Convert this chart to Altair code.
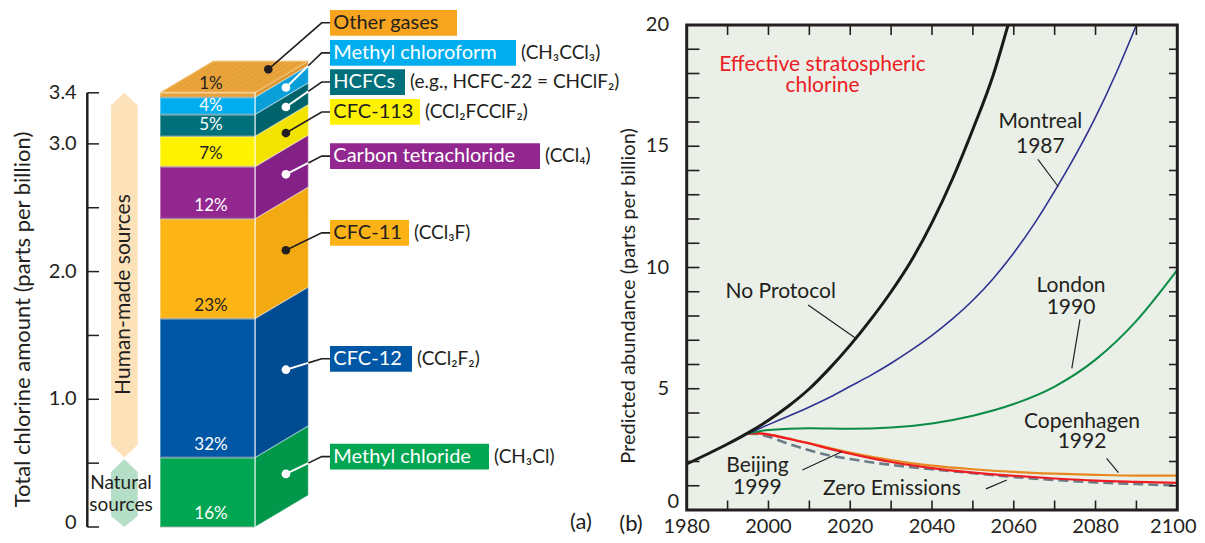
import altair as alt
import numpy as np
import pandas as pd

FONT = "Lato"
DARK = "#231F20"

# ---------------- Panel (a) data ----------------
gases = ["Methyl chloride", "CFC-12", "CFC-11", "Carbon tetrachloride",
         "CFC-113", "HCFCs", "Methyl chloroform", "Other gases"]
formulas = ["(CH₃Cl)", "(CCl₂F₂)", "(CCl₃F)", "(CCl₄)",
            "(CCl₂FCClF₂)", "(e.g., HCFC-22 = CHClF₂)", "(CH₃CCl₃)", ""]
percent = [16, 32, 23, 12, 7, 5, 4, 1]
total_ppb = 3.4
front_colors = ["#00A651", "#0057A5", "#FDB515", "#92278F", "#FFF200", "#00717A", "#00AEEF", "#E9A23A"]
side_colors = ["#00974A", "#004C93", "#F3A912", "#832186", "#F2E300", "#00636B", "#0B9FD9", "#DC9632"]
box_colors = ["#00A651", "#0057A5", "#FBB216", "#92278F", "#FFF200", "#00717A", "#00AEEF", "#F7A51E"]
dark_text = [False, False, True, False, True, False, False, True]
label_ppb = [0.551, 1.317, 2.303, 2.904, 3.250, 3.484, 3.713, 3.948]
box_width = [159, 82, 79, 210, 90, 75, 186, 127]
ppb_ticks = [0, 0.5, 1.0, 1.5, 2.0, 2.5, 3.0, 3.4]
ppb_tick_labels = ["0", "", "1.0", "", "2.0", "", "3.0", "3.4"]

# ---------------- Panel (b) data ----------------
np_years = [1980, 1985, 1990, 1995, 2000, 2005, 2010, 2015, 2020, 2025, 2030, 2035, 2040, 2045, 2050, 2055, 2058.6]
np_vals = [1.9, 2.3, 2.72, 3.18, 3.7, 4.3, 5.0, 5.85, 6.8, 7.85, 9.0, 10.3, 11.85, 13.65, 15.7, 17.95, 20.0]
mon_years = [1995, 2000, 2005, 2010, 2015, 2020, 2025, 2030, 2035, 2040, 2045, 2050, 2055, 2060, 2065, 2070, 2075, 2080, 2085, 2090]
mon_vals = [3.15, 3.52, 3.88, 4.25, 4.65, 5.1, 5.55, 6.05, 6.6, 7.2, 7.88, 8.65, 9.55, 10.6, 11.8, 13.15, 14.6, 16.2, 18.0, 20.0]
lon_years = [1995, 2000, 2010, 2020, 2030, 2040, 2050, 2060, 2070, 2080, 2090, 2100]
lon_vals = [3.15, 3.3, 3.37, 3.35, 3.4, 3.57, 3.89, 4.37, 5.09, 6.2, 7.8, 9.9]
low_years = [1995, 1997, 2000, 2005, 2010, 2015, 2020, 2025, 2030, 2040, 2050, 2060, 2070, 2080, 2090, 2100]
cop_vals = [3.15, 3.17, 3.12, 2.95, 2.76, 2.56, 2.37, 2.2, 2.06, 1.83, 1.68, 1.57, 1.5, 1.45, 1.42, 1.42]
bei_vals = [3.15, 3.17, 3.11, 2.93, 2.74, 2.52, 2.32, 2.14, 1.98, 1.73, 1.54, 1.41, 1.3, 1.21, 1.16, 1.12]
zero_vals = [3.15, 3.14, 3.02, 2.72, 2.46, 2.25, 2.1, 1.97, 1.86, 1.68, 1.52, 1.36, 1.24, 1.14, 1.07, 1.01]
year_ticks = list(range(1980, 2101, 20))
abund_ticks = [0, 5, 10, 15, 20]

# ---------------- layout (pixel styling) ----------------
W, H = 1189, 527
FX0, FX1 = 152, 247      # front face of the bar
DX = 53.3                # depth of the bar, px
DY = 0.248               # depth of the bar, in ppb units
KNEE, BOXL = 313.7, 322

XA = alt.Scale(domain=[0, W], range=[0, W], nice=False, zero=False)
YA = alt.Scale(domain=[0, 3.4], range=[519, 84.8], nice=False, zero=False)
XB = alt.Scale(domain=[1980, 2100], range=[678.7, 1169.3], nice=False, zero=False)
YB = alt.Scale(domain=[0, 20], range=[502, 17], nice=False, zero=False)


def xa(f):
    return alt.X(f, scale=XA, axis=None)


def ya(f):
    return alt.Y(f, scale=YA, axis=None, stack=None)


def xb(f):
    return alt.X(f, scale=XB, axis=None)


def yb(f):
    return alt.Y(f, scale=YB, axis=None, stack=None)


vals = np.array(percent) / 100 * total_ppb
tops = np.cumsum(vals)
bottoms = tops - vals
mids = (tops + bottoms) / 2
tcol = [DARK if d else "white" for d in dark_text]

seg = pd.DataFrame({"gas": gases, "bottom": bottoms, "top": tops, "front": front_colors,
                    "side": side_colors, "box": box_colors, "tc": tcol, "label": label_ppb,
                    "bw": box_width, "formula": formulas})
seg["bl"] = BOXL
seg["br"] = BOXL + seg["bw"]
seg["ylo"] = seg["label"] - 0.1006
seg["yhi"] = seg["label"] + 0.1006
seg["tx"] = BOXL + 3.3
seg["fx"] = seg["br"] + 5
seg["pct"] = [f"{p}%" for p in percent]
seg["pct_y"] = [min(m, b + 0.102) for m, b in zip(mids, bottoms)]
seg.loc[7, "pct_y"] = tops[7] + 0.066

# arrows on the left
TIP = 0.1
nat_top = tops[0]
arrows = pd.DataFrame({
    "shape": ["h"] * 4 + ["n"] * 4,
    "y": [total_ppb, total_ppb - TIP, nat_top + TIP, nat_top,
          nat_top - 0.013, nat_top - 0.013 - TIP, 0.086, 0.0],
    "x": [116.3, 103, 103, 116.3] * 2,
    "x2": [116.3, 129.7, 129.7, 116.3] * 2,
    "c": ["#FDE1B8"] * 4 + ["#B4DEC6"] * 4,
})
arrow_layer = alt.Chart(arrows).mark_area(orient="horizontal", interpolate="linear").encode(
    y=ya("y:Q"), x=xa("x:Q"), x2="x2:Q", color=alt.Color("c:N", scale=None), detail="shape:N")

# side faces
side_rows = []
for g, b, t, c in zip(gases, bottoms, tops, side_colors):
    for k in (0, 1):
        side_rows.append({"gas": g, "x": FX1 + k * DX, "y": b + k * DY, "y2": t + k * DY, "c": c})
side_layer = alt.Chart(pd.DataFrame(side_rows)).mark_area(
    orient="vertical", interpolate="linear", stroke="#FFFFFF", strokeOpacity=0.35, strokeWidth=1.2
).encode(x=xa("x:Q"), y=ya("y:Q"), y2="y2:Q", color=alt.Color("c:N", scale=None), detail="gas:N")

# top face
top_df = pd.DataFrame({"y": [total_ppb, total_ppb + DY], "x": [FX0, FX0 + DX], "x2": [FX1, FX1 + DX]})
top_layer = alt.Chart(top_df).mark_area(orient="horizontal", color="#E9A43C",
                                         stroke="#F6C47A", strokeWidth=1).encode(
    y=ya("y:Q"), x=xa("x:Q"), x2="x2:Q")
hatch_rows = []
for i, f in enumerate(np.linspace(0.08, 0.92, 12)):
    hatch_rows.append({"h": i, "o": 0, "x": FX0 + f * (FX1 - FX0), "y": total_ppb})
    hatch_rows.append({"h": i, "o": 1, "x": FX0 + f * (FX1 - FX0) + DX, "y": total_ppb + DY})
hatch_layer = alt.Chart(pd.DataFrame(hatch_rows)).mark_line(
    color="#D38F2C", strokeWidth=0.7, opacity=0.5).encode(
    x=xa("x:Q"), y=ya("y:Q"), detail="h:N", order="o:O")

# front faces
front_layer = alt.Chart(seg).mark_rect(stroke="#FFFFFF", strokeOpacity=0.35, strokeWidth=2).encode(
    x=alt.value(FX0), x2=alt.value(FX1), y=ya("bottom:Q"), y2="top:Q",
    color=alt.Color("front:N", scale=None))
front_edge = alt.Chart(seg).mark_rule(color="#000000", opacity=0.18, strokeWidth=1.5).encode(
    x=alt.value(FX0), x2=alt.value(FX1), y=ya("bottom:Q"))
side_edge = alt.Chart(pd.DataFrame({"y0": [0.0], "y1": [total_ppb]})).mark_rule(
    color="#FFFFFF", opacity=0.4, strokeWidth=1.5).encode(
    x=alt.value(FX1), y=ya("y0:Q"), y2="y1:Q")

# dots and leader lines
dot_x = [FX1 + 0.58 * DX] * 7 + [260.3]
dot_y = list(mids[:7] + 0.58 * DY) + [tops[7] + 0.184]
dots = pd.DataFrame({"x": dot_x, "y": dot_y, "c": tcol})
edge_x = FX1 + DX
black_rows, white_rows = [], []
for i, g in enumerate(gases):
    x0, y0, yl = dot_x[i], dot_y[i], label_ppb[i]
    if dark_text[i]:
        xs, ys = x0, y0
    else:
        t = (edge_x - x0) / (KNEE - x0)
        xs, ys = edge_x, y0 + t * (yl - y0)
        white_rows += [{"g": g, "o": 0, "x": x0, "y": y0}, {"g": g, "o": 1, "x": xs, "y": ys}]
    black_rows += [{"g": g, "o": 0, "x": xs, "y": ys}, {"g": g, "o": 1, "x": KNEE, "y": yl},
                   {"g": g, "o": 2, "x": BOXL, "y": yl}]
lead_black = alt.Chart(pd.DataFrame(black_rows)).mark_line(color=DARK, strokeWidth=1.6).encode(
    x=xa("x:Q"), y=ya("y:Q"), detail="g:N", order="o:O")
lead_white = alt.Chart(pd.DataFrame(white_rows)).mark_line(color="white", strokeWidth=2).encode(
    x=xa("x:Q"), y=ya("y:Q"), detail="g:N", order="o:O")
dot_layer = alt.Chart(dots).mark_point(filled=True, size=75, opacity=1, shape="circle").encode(
    x=xa("x:Q"), y=ya("y:Q"), color=alt.Color("c:N", scale=None))

# label boxes
box_layer = alt.Chart(seg).mark_rect().encode(
    x=xa("bl:Q"), x2="br:Q", y=ya("ylo:Q"), y2="yhi:Q", color=alt.Color("box:N", scale=None))
box_text = alt.Chart(seg).mark_text(font=FONT, fontSize=20, align="left", baseline="middle").encode(
    x=xa("tx:Q"), y=ya("label:Q"), text="gas:N", color=alt.Color("tc:N", scale=None))
form_text = alt.Chart(seg).mark_text(font=FONT, fontSize=19, align="left", baseline="middle",
                                      color=DARK).encode(
    x=xa("fx:Q"), y=ya("label:Q"), text="formula:N")
pct_text = alt.Chart(seg).mark_text(font=FONT, fontSize=17, align="center", baseline="middle").encode(
    x=alt.value(203), y=ya("pct_y:Q"), text="pct:N", color=alt.Color("tc:N", scale=None))

# source texts
human_text = alt.Chart(pd.DataFrame({"t": ["Human-made sources"], "y": [1.82]})).mark_text(
    font=FONT, fontSize=21, angle=270, color=DARK, align="center", baseline="middle").encode(
    x=alt.value(116.3), y=ya("y:Q"), text="t:N")
nat_text = alt.Chart(pd.DataFrame({"t": ["Natural", "sources"], "y": [0.347, 0.172]})).mark_text(
    font=FONT, fontSize=19, color=DARK, align="center", baseline="middle").encode(
    x=alt.value(113), y=ya("y:Q"), text="t:N")

# custom ppb axis
axis_line = alt.Chart(pd.DataFrame({"y0": [0.0], "y1": [total_ppb]})).mark_rule(
    color=DARK, strokeWidth=2.5).encode(x=alt.value(79.3), y=ya("y0:Q"), y2="y1:Q")
tick_df = pd.DataFrame({"v": ppb_ticks, "lab": ppb_tick_labels})
axis_ticks = alt.Chart(tick_df).mark_rule(color=DARK, strokeWidth=1.5).encode(
    x=alt.value(79.3), x2=alt.value(91), y=ya("v:Q"))
lab_df = tick_df[tick_df["lab"] != ""]
axis_labels = alt.Chart(lab_df[lab_df["v"] > 0]).mark_text(
    font=FONT, fontSize=20, align="right", baseline="middle", color=DARK).encode(
    x=alt.value(68.7), y=ya("v:Q"), text="lab:N")
axis_label0 = alt.Chart(lab_df[lab_df["v"] == 0]).mark_text(
    font=FONT, fontSize=20, align="right", baseline="middle", color=DARK, dy=-4).encode(
    x=alt.value(68.7), y=ya("v:Q"), text="lab:N")
axis_title = alt.Chart(pd.DataFrame({"t": ["Total chlorine amount (parts per billion)"]})).mark_text(
    font=FONT, fontSize=22, angle=270, color=DARK, align="center", baseline="middle").encode(
    x=alt.value(15), y=alt.value(311.5), text="t:N")
a_label = alt.Chart(pd.DataFrame({"t": ["(a)"]})).mark_text(
    font=FONT, fontSize=22, color=DARK, align="center", baseline="middle").encode(
    x=alt.value(573), y=alt.value(514), text="t:N")

panel_a = alt.layer(arrow_layer, side_layer, top_layer, hatch_layer, front_layer, front_edge, side_edge,
                    lead_black, lead_white, dot_layer, box_layer, box_text, form_text, pct_text,
                    human_text, nat_text, axis_line, axis_ticks, axis_labels, axis_label0,
                    axis_title, a_label)

# ---------------- Panel (b) ----------------
frame_df = pd.DataFrame({"x0": [1980], "x1": [2100], "y0": [0], "y1": [20]})
bg = alt.Chart(frame_df).mark_rect(color="#EAF0E7").encode(
    x=xb("x0:Q"), x2="x1:Q", y=yb("y0:Q"), y2="y1:Q")


def series(years, values, color, width, dash=None):
    kw = dict(color=color, strokeWidth=width, interpolate="monotone")
    if dash:
        kw["strokeDash"] = dash
    return alt.Chart(pd.DataFrame({"year": years, "v": values})).mark_line(**kw).encode(
        x=xb("year:Q"), y=yb("v:Q"))


lines = [
    series(low_years, zero_vals, "#6B7C86", 2.6, [10, 5]),
    series(low_years, cop_vals, "#E8871E", 2.2),
    series(low_years, bei_vals, "#ED1C24", 2.2),
    series(lon_years, lon_vals, "#0B8B45", 2.0),
    series(mon_years, mon_vals, "#2E3192", 1.6),
    series(np_years, np_vals, "#1A1A1A", 3.0),
]

dec = pd.DataFrame({"x": list(range(1990, 2100, 10))})
unit = pd.DataFrame({"y": list(range(1, 20))})
tick_style = dict(color=DARK, strokeWidth=1.6)
ticks_b = [
    alt.Chart(dec).mark_rule(**tick_style).encode(x=xb("x:Q"), y=alt.value(502), y2=alt.value(492.5)),
    alt.Chart(dec).mark_rule(**tick_style).encode(x=xb("x:Q"), y=alt.value(17), y2=alt.value(27)),
    alt.Chart(unit).mark_rule(**tick_style).encode(y=yb("y:Q"), x=alt.value(678.7), x2=alt.value(691.5)),
    alt.Chart(unit).mark_rule(**tick_style).encode(y=yb("y:Q"), x=alt.value(1169.3), x2=alt.value(1161)),
]
frame = alt.Chart(frame_df).mark_rect(fillOpacity=0, stroke=DARK, strokeWidth=3).encode(
    x=xb("x0:Q"), x2="x1:Q", y=yb("y0:Q"), y2="y1:Q")

xl_df = pd.DataFrame({"x": year_ticks, "t": [str(y) for y in year_ticks]})
xlab = alt.Chart(xl_df.iloc[:-1]).mark_text(
    font=FONT, fontSize=20, color=DARK, align="center", baseline="middle").encode(
    x=xb("x:Q"), y=alt.value(518.5), text="t:N")
xlab_last = alt.Chart(xl_df.iloc[-1:]).mark_text(
    font=FONT, fontSize=20, color=DARK, align="center", baseline="middle", dx=-4).encode(
    x=xb("x:Q"), y=alt.value(518.5), text="t:N")
ylab = alt.Chart(pd.DataFrame({"y": abund_ticks[1:], "t": [str(v) for v in abund_ticks[1:]]})).mark_text(
    font=FONT, fontSize=20, color=DARK, align="right", baseline="middle").encode(
    x=alt.value(661), y=yb("y:Q"), text="t:N")
ylab0 = alt.Chart(pd.DataFrame({"y": [abund_ticks[0]], "t": [str(abund_ticks[0])]})).mark_text(
    font=FONT, fontSize=20, color=DARK, align="right", baseline="middle", dy=-8).encode(
    x=alt.value(671), y=yb("y:Q"), text="t:N")
ytitle = alt.Chart(pd.DataFrame({"t": ["Predicted abundance (parts per billion)"]})).mark_text(
    font=FONT, fontSize=20, angle=270, color=DARK, align="center", baseline="middle").encode(
    x=alt.value(621), y=alt.value(288), text="t:N")
b_label = alt.Chart(pd.DataFrame({"t": ["(b)"]})).mark_text(
    font=FONT, fontSize=22, color=DARK, align="center", baseline="middle").encode(
    x=alt.value(623), y=alt.value(516), text="t:N")

ann = pd.DataFrame({
    "t": ["Effective stratospheric", "chlorine", "Montreal", "1987", "No Protocol", "London", "1990",
          "Copenhagen", "1992", "Beijing", "1999", "Zero Emissions"],
    "x": [2013.2, 2013.2, 2066.5, 2066.5, 2003.0, 2074.0, 2074.0, 2076.7, 2076.7, 1997.3, 1997.3, 2030.2],
    "y": [18.35, 17.48, 16.0, 14.98, 9.0, 9.24, 8.32, 3.64, 2.82, 1.83, 0.92, 0.85],
    "c": ["#ED1C24", "#ED1C24"] + [DARK] * 10,
})
ann_text = alt.Chart(ann).mark_text(font=FONT, fontSize=21, align="center", baseline="middle").encode(
    x=xb("x:Q"), y=yb("y:Q"), text="t:N", color=alt.Color("c:N", scale=None))
lead_b = pd.DataFrame({
    "g": ["m", "m", "n", "n", "l", "l", "c", "c", "b", "b", "z", "z"],
    "o": [0, 1] * 6,
    "x": [2065.9, 2070.9, 2009.7, 2021.6, 2076.2, 2074.2, 2082.7, 2085.6, 2008.3, 2017.9, 2053.2, 2058.3],
    "y": [14.46, 13.33, 8.45, 7.05, 7.86, 5.84, 2.13, 1.54, 1.65, 2.40, 0.87, 1.24],
})
lead_b_layer = alt.Chart(lead_b).mark_line(color=DARK, strokeWidth=1.2).encode(
    x=xb("x:Q"), y=yb("y:Q"), detail="g:N", order="o:O")

panel_b = alt.layer(bg, *lines, *ticks_b, frame, lead_b_layer, ann_text, xlab, xlab_last,
                    ylab, ylab0, ytitle, b_label)

chart = alt.layer(panel_a, panel_b).resolve_scale(x="independent", y="independent").properties(
    width=W, height=H, padding=0, autosize=alt.AutoSizeParams(type="none"),
    background="white"
).configure_view(stroke=None)

chart.save("out.html", embed_options={"renderer": "svg", "actions": False})
